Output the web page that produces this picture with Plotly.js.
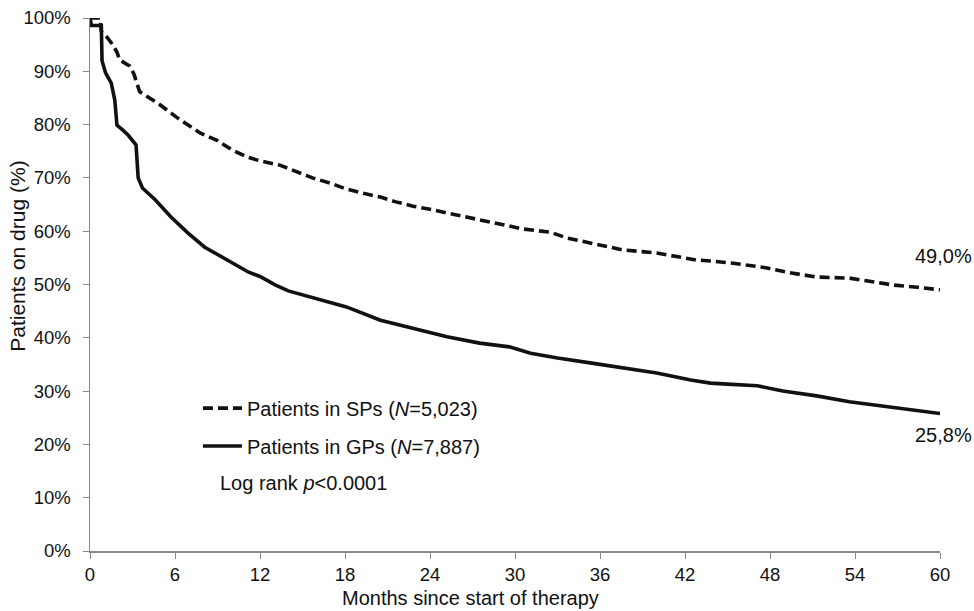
<!DOCTYPE html>
<html>
<head>
<meta charset="utf-8">
<script src="https://cdn.plot.ly/plotly-3.0.1.min.js"></script>
<style>html,body{margin:0;padding:0;background:#fff;}#chart{width:974px;height:611px;}</style>
</head>
<body>
<div id="chart"></div>
<script>
// Specialist practices (SP) – dashed
const spMonths = [0, 0.7, 0.8, 1.2, 1.6, 1.9, 2.1, 2.8, 3.1, 3.3, 3.5, 4.2, 4.8, 6.1, 7.0, 7.8, 9.0, 10.0, 11.1, 12.0, 13.4, 14.5, 15.7, 17.0, 18.1, 19.3, 20.5, 21.6, 22.8, 24.0, 25.2, 26.3, 27.5, 28.9, 30.6, 32.5, 33.7, 35.3, 36.5, 37.6, 40.0, 41.6, 42.8, 43.8, 45.4, 47.8, 49.4, 51.3, 53.6, 54.8, 56.7, 58.4, 60];
const spValues = [100, 100, 97.5, 96.4, 95.0, 93.6, 92.1, 91.0, 89.5, 88.0, 86.2, 85.0, 84.0, 81.4, 79.8, 78.4, 77.0, 75.3, 73.9, 73.2, 72.4, 71.2, 70.0, 69.0, 67.9, 67.1, 66.4, 65.5, 64.7, 64.1, 63.4, 62.8, 62.1, 61.3, 60.4, 59.8, 58.7, 57.8, 57.2, 56.5, 55.9, 55.2, 54.6, 54.4, 54.0, 53.1, 52.2, 51.4, 51.2, 50.7, 49.9, 49.5, 49.0];
// General practitioners (GP) – solid
const gpMonths = [0, 0.1, 0.8, 0.85, 1.1, 1.5, 1.75, 1.9, 2.3, 2.7, 3.25, 3.4, 3.7, 4.6, 5.7, 6.9, 8.1, 9.7, 11.2, 12.0, 13.1, 14.0, 15.7, 18.1, 20.5, 22.8, 25.2, 27.5, 29.6, 31.1, 33.0, 35.3, 37.6, 40.0, 42.4, 43.8, 45.0, 47.1, 48.9, 51.3, 53.6, 56.0, 58.1, 60];
const gpValues = [100, 98.6, 98.6, 92.0, 89.7, 87.8, 84.6, 79.9, 79.0, 78.0, 76.2, 70.0, 68.1, 65.9, 62.7, 59.7, 57.0, 54.6, 52.3, 51.5, 49.9, 48.8, 47.6, 45.8, 43.3, 41.8, 40.2, 39.0, 38.3, 37.1, 36.2, 35.3, 34.3, 33.4, 32.1, 31.5, 31.3, 31.0, 30.0, 29.1, 28.0, 27.2, 26.6, 25.8];

const seriesNames = ['Patients in SPs (<i>N</i>=5,023)', 'Patients in GPs (<i>N</i>=7,887)'];
const endLabels = ['49,0%', '25,8%'];
const xTicks = [0, 6, 12, 18, 24, 30, 36, 42, 48, 54, 60];
const yTicks = [0, 10, 20, 30, 40, 50, 60, 70, 80, 90, 100];
const yTickText = yTicks.map(v => v + '%');
const xTitle = 'Months since start of therapy';
const yTitle = 'Patients on drug (%)';
const statText = 'Log rank <i>p</i>&lt;0.0001';

const FONT = 'Liberation Sans, Arial, sans-serif';
const INK = '#111';

const traces = [
  {x: spMonths, y: spValues, name: seriesNames[0], mode: 'lines', legend: 'legend',
   line: {color: '#111', width: 3.6, dash: '10px,5px'}},
  {x: gpMonths, y: gpValues, name: seriesNames[1], mode: 'lines', legend: 'legend2',
   line: {color: '#111', width: 3.6}}
];

const legendCommon = {xanchor: 'left', yanchor: 'middle', bgcolor: 'rgba(0,0,0,0)',
  font: {family: FONT, size: 20, color: INK}, itemwidth: 39, borderwidth: 0};

const layout = {
  width: 974, height: 611,
  margin: {l: 90, r: 34, t: 18, b: 60},
  paper_bgcolor: '#fff', plot_bgcolor: '#fff',
  font: {family: FONT, color: INK, size: 18},
  showlegend: true,
  legend: Object.assign({x: 0.127, y: 0.268}, legendCommon),
  legend2: Object.assign({x: 0.127, y: 0.197}, legendCommon),
  xaxis: {range: [0, 60], tickvals: xTicks, ticks: 'outside', ticklen: 6, tickcolor: '#888',
    showline: true, linecolor: '#888', linewidth: 1.5, showgrid: false, zeroline: false,
    tickfont: {family: FONT, size: 18.5, color: INK}},
  yaxis: {range: [0, 100], tickvals: yTicks, ticktext: yTickText, ticks: 'outside', ticklen: 6, tickcolor: '#888',
    showline: true, linecolor: '#888', linewidth: 1.5, showgrid: false, zeroline: false,
    ticklabelstandoff: 8,
    tickfont: {family: FONT, size: 18.5, color: INK}},
  annotations: [
    {x: 0.448, y: -0.0885, xref: 'paper', yref: 'paper', text: xTitle, showarrow: false,
     xanchor: 'center', yanchor: 'middle', font: {family: FONT, size: 20, color: INK}},
    {x: -0.0847, y: 0.552, xref: 'paper', yref: 'paper', text: yTitle, showarrow: false, textangle: -90,
     xanchor: 'center', yanchor: 'middle', font: {family: FONT, size: 21, color: INK}},
    {x: spMonths[spMonths.length - 1], y: spValues[spValues.length - 1], xref: 'x', yref: 'y', text: endLabels[0],
     showarrow: false, xanchor: 'center', yanchor: 'middle', yshift: 34, xshift: 3,
     font: {family: FONT, size: 20, color: INK}},
    {x: gpMonths[gpMonths.length - 1], y: gpValues[gpValues.length - 1], xref: 'x', yref: 'y', text: endLabels[1],
     showarrow: false, xanchor: 'center', yanchor: 'middle', yshift: -22, xshift: 3,
     font: {family: FONT, size: 20, color: INK}},
    {x: 0.1506, y: 0.1276, xref: 'paper', yref: 'paper', text: statText, showarrow: false,
     xanchor: 'left', yanchor: 'middle', font: {family: FONT, size: 20, color: INK}}
  ]
};

Plotly.newPlot('chart', traces, layout, {displayModeBar: false, staticPlot: true});
</script>
</body>
</html>
